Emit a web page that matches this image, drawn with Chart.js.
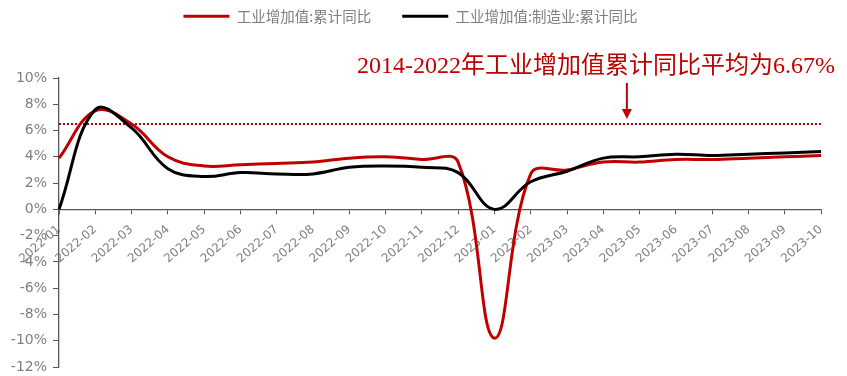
<!DOCTYPE html>
<html>
<head>
<meta charset="utf-8">
<script src="https://cdn.jsdelivr.net/npm/chart.js@4.4.0/dist/chart.umd.min.js"></script>
<style>
  body { margin: 0; background: #fff; }
  #wrap { width: 847px; height: 376px; }
</style>
</head>
<body>
<div id="wrap"><canvas id="chart"></canvas></div>
<script>
// months on the x axis
const months = ['2022-01', '2022-02', '2022-03', '2022-04', '2022-05', '2022-06', '2022-07', '2022-08',
  '2022-09', '2022-10', '2022-11', '2022-12', '2023-01', '2023-02', '2023-03', '2023-04',
  '2023-05', '2023-06', '2023-07', '2023-08', '2023-09', '2023-10'];

// 工业增加值:累计同比 (%)
const industryYoY = [3.9, 7.5, 6.5, 4.0, 3.3, 3.4, 3.5, 3.6, 3.9, 4.0, 3.8, 3.6,
  -9.8, 2.7, 3.0, 3.6, 3.6, 3.8, 3.8, 3.9, 4.0, 4.1];

// 工业增加值:制造业:累计同比 (%)
const manufYoY = [0.0, 7.6, 6.2, 3.1, 2.5, 2.8, 2.7, 2.7, 3.2, 3.3, 3.2, 2.8,
  0.0, 2.1, 2.9, 3.9, 4.0, 4.2, 4.1, 4.2, 4.3, 4.4];

// dotted average line as drawn in the picture
const avgLine = 6.5;
const noteText = '2014-2022年工业增加值累计同比平均为6.67%';

const red = '#c00000';
const gray = '#7f7f7f';

let noteArrow = {
  id: 'noteArrow',
  beforeInit(chart) {
    // leave room under the legend for the note
    let fit = chart.legend.fit;
    chart.legend.fit = function () {
      fit.call(this);
      this.height = 100;
    };
  },
  afterDraw(chart) {
    let ctx = chart.ctx;
    let x = chart.scales.x.getPixelForValue(15.65);
    let yTip = chart.scales.y.getPixelForValue(avgLine) - 5;
    ctx.save();
    ctx.fillStyle = red;
    ctx.strokeStyle = red;
    ctx.font = '24px "Liberation Serif", "Noto Sans CJK SC"';
    ctx.textAlign = 'center';
    ctx.textBaseline = 'alphabetic';
    ctx.fillText(noteText, 596, 73);
    ctx.lineWidth = 2;
    ctx.beginPath();
    ctx.moveTo(x, 83);
    ctx.lineTo(x, yTip - 8);
    ctx.stroke();
    ctx.beginPath();
    ctx.moveTo(x - 5, yTip - 10);
    ctx.lineTo(x + 5, yTip - 10);
    ctx.lineTo(x, yTip);
    ctx.closePath();
    ctx.fill();
    ctx.restore();
  }
};

let ctx = document.getElementById('chart');
let myChart = new Chart(ctx, {
  type: 'line',
  data: {
    labels: months,
    datasets: [{
      label: '工业增加值:累计同比',
      data: industryYoY,
      borderColor: red,
      backgroundColor: red,
      borderWidth: 3,
      pointRadius: 0,
      tension: 0.4,
      order: 2
    }, {
      label: '工业增加值:制造业:累计同比',
      data: manufYoY,
      borderColor: '#000000',
      backgroundColor: '#000000',
      borderWidth: 3,
      pointRadius: 0,
      tension: 0.4,
      order: 1
    }, {
      label: 'avg',
      data: months.map(() => avgLine),
      borderColor: red,
      borderWidth: 2,
      borderDash: [2, 2],
      pointRadius: 0,
      tension: 0,
      order: 3
    }]
  },
  options: {
    responsive: true,
    maintainAspectRatio: false,
    animation: false,
    layout: { padding: { left: 0, right: 26, top: -22, bottom: 9 } },
    plugins: {
      tooltip: { enabled: false },
      legend: {
        position: 'top',
        labels: {
          color: gray,
          font: { size: 14.5, family: '"Noto Sans CJK SC"' },
          boxWidth: 46,
          boxHeight: 3,
          padding: 31,
          filter: item => item.datasetIndex < 2,
          sort: (a, b) => a.datasetIndex - b.datasetIndex,
          generateLabels: chart => Chart.defaults.plugins.legend.labels.generateLabels(chart)
            .map(item => Object.assign(item, { lineWidth: 0 }))
        }
      }
    },
    scales: {
      x: {
        position: { y: 0 },
        grid: { drawOnChartArea: false, drawTicks: true, tickLength: 4, color: '#595959' },
        border: { color: '#595959', width: 1.3 },
        ticks: {
          color: gray,
          font: { size: 12, family: '"DejaVu Sans"' },
          minRotation: 41,
          maxRotation: 41,
          autoSkip: false,
          padding: 9
        },
        afterFit: scale => {
          scale.height = 0;
          scale.paddingTop = 0;
          scale.paddingBottom = 0;
        }
      },
      y: {
        min: -12,
        max: 10,
        grid: { drawOnChartArea: false, drawTicks: true, tickLength: 6, color: '#595959' },
        border: { color: '#595959', width: 1.3 },
        ticks: {
          stepSize: 2,
          color: gray,
          font: { size: 14, family: '"DejaVu Sans"' },
          padding: 6,
          callback: v => v + '%'
        },
        afterFit: scale => {
          scale.width = 59;
          scale.paddingTop = 0;
          scale.paddingBottom = 0;
        }
      }
    }
  },
  plugins: [noteArrow]
});
</script>
</body>
</html>
